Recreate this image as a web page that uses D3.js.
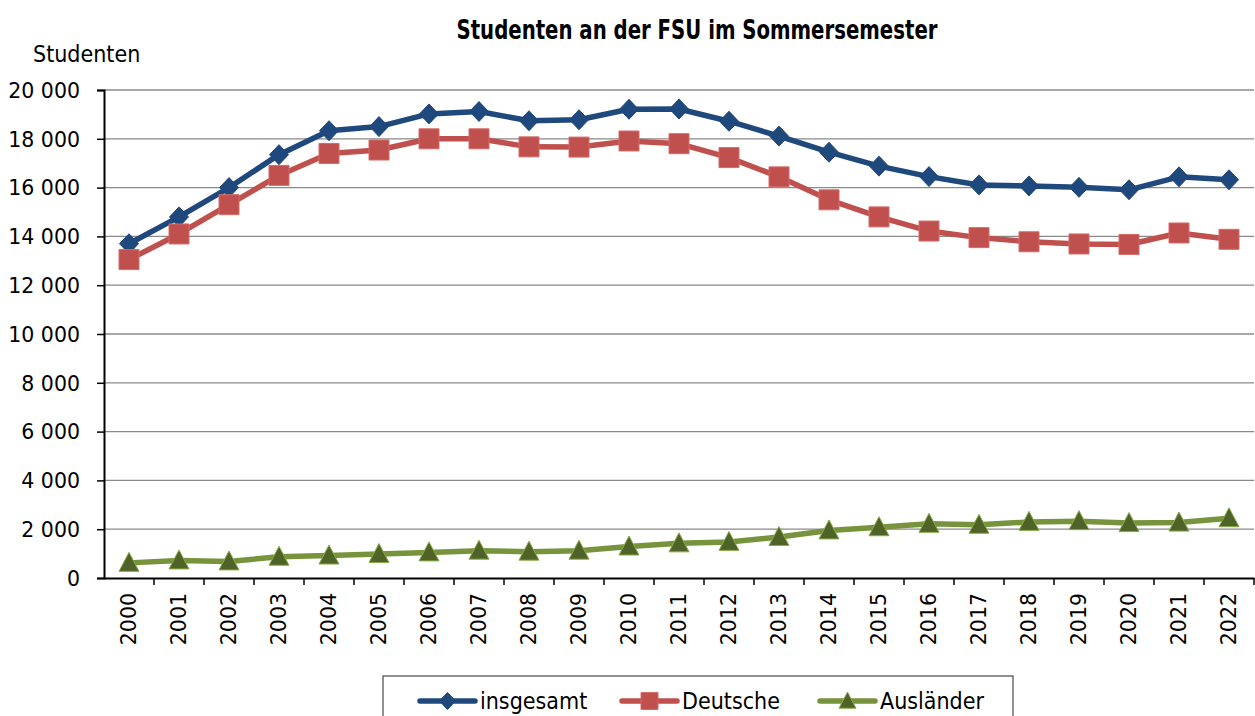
<!DOCTYPE html>
<html>
<head>
<meta charset="utf-8">
<script src="https://d3js.org/d3.v7.min.js"></script>
<style>
  body { margin: 0; background: #fff; }
  text { font-family: "DejaVu Sans Condensed", "Noto Sans", sans-serif; fill: #000; }
  .tick text { font-family: "DejaVu Sans", sans-serif; }
</style>
</head>
<body>
<script>
// chart data
var years = ["2000","2001","2002","2003","2004","2005","2006","2007","2008","2009","2010","2011",
             "2012","2013","2014","2015","2016","2017","2018","2019","2020","2021","2022"];
var insgesamt = [13700,14800,16000,17350,18330,18500,19020,19120,18740,18780,19210,19220,
                 18720,18110,17450,16880,16450,16110,16070,16010,15910,16440,16320];
var deutsche = [13050,14100,15300,16500,17400,17540,18000,18000,17670,17660,17910,17800,
                17230,16440,15500,14800,14220,13950,13780,13690,13670,14140,13880];
var auslaender = [620,720,680,870,920,980,1050,1120,1080,1120,1290,1420,
                  1480,1680,1950,2080,2220,2180,2300,2330,2250,2270,2450];
var yTicks = [0,2000,4000,6000,8000,10000,12000,14000,16000,18000,20000];

var W = 1255, H = 716;
var mLeft = 104, mRight = 1254, mTop = 90, mBottom = 578;

var svg = d3.select("body").append("svg")
    .attr("width", W).attr("height", H);

var x = d3.scaleBand().domain(years).range([mLeft, mRight]);
var y = d3.scaleLinear().domain([0, 20000]).range([mBottom, mTop]);

// gridlines
svg.append("g").selectAll("line")
  .data(yTicks.filter(function(d) { return d > 0; }))
  .enter().append("line")
    .attr("x1", mLeft).attr("x2", mRight)
    .attr("y1", function(d) { return y(d); })
    .attr("y2", function(d) { return y(d); })
    .attr("stroke", "#8a8a8a").attr("stroke-width", 1.3);

// y axis
var yAxis = svg.append("g")
    .attr("transform", "translate(" + mLeft + ",0)")
    .call(d3.axisLeft(y).tickValues(yTicks).tickSize(7).tickPadding(17)
      .tickFormat(function(d) { return d3.format(",")(d).replace(/,/g, " "); }));
yAxis.select(".domain").attr("stroke", "#000").attr("stroke-width", 2);
yAxis.selectAll(".tick line").attr("stroke", "#000").attr("stroke-width", 1.5);
yAxis.selectAll(".tick text").style("font-size", "20.5px").attr("dy", "0.36em");

// x axis
var xAxis = svg.append("g")
    .attr("transform", "translate(0," + mBottom + ")")
    .call(d3.axisBottom(x).tickSize(0).tickPadding(0));
xAxis.select(".domain").attr("stroke", "#000").attr("stroke-width", 2);
xAxis.selectAll(".tick text")
    .style("font-size", "20.5px")
    .attr("text-anchor", "end")
    .attr("transform", "rotate(-90)")
    .attr("x", -15).attr("y", 0).attr("dy", "0.36em");
// category boundary ticks
svg.append("g").selectAll("line")
  .data(years)
  .enter().append("line")
    .attr("x1", function(d) { return x(d) + x.step(); })
    .attr("x2", function(d) { return x(d) + x.step(); })
    .attr("y1", mBottom).attr("y2", mBottom + 7)
    .attr("stroke", "#000").attr("stroke-width", 1.5);

var cx = function(d, i) { return x(years[i]) + x.bandwidth() / 2; };

var series = [
  { name: "insgesamt", values: insgesamt, color: "#1f497d", marker: "diamond", fill: "#1f497d", stroke: "#1f497d" },
  { name: "Deutsche", values: deutsche, color: "#c0504d", marker: "square", fill: "#c0504d", stroke: "#d46b68" },
  { name: "Ausländer", values: auslaender, color: "#77933c", marker: "triangle", fill: "#4f6228", stroke: "#8aab47" }
];

function markerPath(type, s) {
  if (type === "diamond") return "M0," + (-s) + "L" + (s * 0.95) + ",0L0," + s + "L" + (-s * 0.95) + ",0Z";
  if (type === "square") return "M" + (-s) + "," + (-s) + "H" + s + "V" + s + "H" + (-s) + "Z";
  return "M0," + (-s * 1.05) + "L" + s + "," + (s * 0.85) + "H" + (-s) + "Z";
}

var line = d3.line()
  .x(function(d, i) { return cx(d, i); })
  .y(function(d) { return y(d); });

series.forEach(function(s) {
  svg.append("path")
    .datum(s.values)
    .attr("d", line)
    .attr("fill", "none")
    .attr("stroke", s.color)
    .attr("stroke-width", 5.5)
    .attr("stroke-linejoin", "round");
  svg.append("g").selectAll("path")
    .data(s.values)
    .enter().append("path")
      .attr("transform", function(d, i) { return "translate(" + cx(d, i) + "," + y(d) + ")"; })
      .attr("d", markerPath(s.marker, 10))
      .attr("fill", s.fill)
      .attr("stroke", s.stroke)
      .attr("stroke-width", 1);
});

// title and axis label
svg.append("text")
  .attr("x", 697).attr("y", 39)
  .attr("text-anchor", "middle")
  .attr("textLength", 481).attr("lengthAdjust", "spacingAndGlyphs")
  .style("font-size", "26px")
  .style("font-weight", "bold")
  .text("Studenten an der FSU im Sommersemester");
svg.append("text")
  .attr("x", 33).attr("y", 62)
  .style("font-size", "23px")
  .text("Studenten");

// legend
var legend = svg.append("g");
legend.append("rect")
  .attr("x", 383).attr("y", 676)
  .attr("width", 630).attr("height", 60)
  .attr("fill", "#fff").attr("stroke", "#555").attr("stroke-width", 1.3);
var legX = [420, 622, 820];
series.forEach(function(s, i) {
  var g = legend.append("g").attr("transform", "translate(" + legX[i] + ",701)");
  g.append("line").attr("x1", 0).attr("x2", 55)
    .attr("stroke", s.color).attr("stroke-width", 5.5).attr("stroke-linecap", "round");
  g.append("path").attr("transform", "translate(27.5,0)")
    .attr("d", markerPath(s.marker, 8.5))
    .attr("fill", s.fill).attr("stroke", s.stroke).attr("stroke-width", 1);
  g.append("text").attr("x", 60).attr("y", 0).attr("dy", "0.36em")
    .style("font-size", "23px")
    .text(s.name);
});
</script>
</body>
</html>
